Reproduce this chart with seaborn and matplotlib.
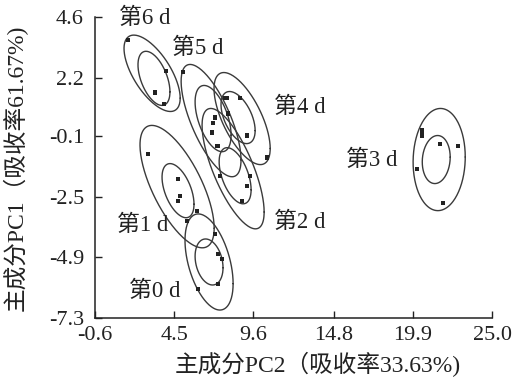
import numpy as np
import pandas as pd
import matplotlib
matplotlib.use("Agg")
import matplotlib.pyplot as plt
import seaborn as sns

sns.set_style("ticks")
plt.rcParams['font.family'] = ['Liberation Serif', 'Noto Sans CJK SC']

# 组别
groups = ['第0 d', '第1 d', '第2 d', '第3 d', '第4 d', '第5 d', '第6 d']

# 样本点 (PC2, PC1)
pts_x = {
    '第0 d': [7.33, 7.59, 7.33, 6.04, 7.14],
    '第1 d': [2.82, 4.75, 4.88, 4.75, 5.98, 5.33],
    '第2 d': [9.39, 9.20, 8.88, 7.46, 7.33],
    '第3 d': [20.48, 20.48, 21.65, 22.81, 20.16, 21.84],
    '第4 d': [7.91, 8.75, 9.20, 10.49, 7.98],
    '第5 d': [5.07, 7.14, 7.01, 6.94, 7.27, 7.78],
    '第6 d': [1.53, 3.98, 3.27, 3.85],
}
pts_y = {
    '第0 d': [-4.76, -4.96, -5.95, -6.15, -3.97],
    '第1 d': [-0.80, -1.79, -2.46, -2.66, -3.06, -3.45],
    '第2 d': [-1.67, -2.06, -2.66, -1.67, -0.48],
    '第3 d': [0.12, -0.08, -0.40, -0.48, -1.39, -2.74],
    '第4 d': [1.39, 1.39, -0.08, -0.95, 0.79],
    '第5 d': [2.42, 0.63, 0.40, 0.04, -0.48, 1.39],
    '第6 d': [3.69, 2.46, 1.62, 1.15],
}

# 置信椭圆: 中心x, 中心y, x半幅, y半幅, 相关系数
outer_ell = {
    '第0 d': (6.75, -5.08, 1.55, 1.90, -0.45),
    '第1 d': (4.69, -2.10, 2.39, 2.42, -0.68),
    '第2 d': (8.30, -1.39, 2.00, 2.38, -0.72),
    '第3 d': (21.58, -1.03, 1.68, 2.02, 0.05),
    '第4 d': (8.88, 0.59, 1.81, 1.82, -0.65),
    '第5 d': (6.88, 0.51, 1.93, 2.22, -0.7),
    '第6 d': (3.08, 2.38, 1.81, 1.51, -0.65),
}
inner_ell = {
    '第0 d': (6.75, -5.08, 0.90, 0.91, -0.25),
    '第1 d': (4.75, -2.26, 1.03, 1.07, -0.5),
    '第2 d': (8.43, -1.67, 1.03, 1.11, -0.5),
    '第3 d': (21.39, -1.03, 0.90, 0.95, 0.1),
    '第4 d': (8.62, 0.63, 1.10, 1.03, -0.5),
    '第5 d': (7.01, 0.59, 1.16, 1.31, -0.5),
    '第6 d': (3.20, 2.18, 1.03, 1.07, -0.5),
}

# 标签位置
lab_x = [3.27, 2.50, 12.62, 17.26, 12.62, 6.04, 2.62]
lab_y = [-6.23, -3.65, -3.53, -1.07, 1.03, 3.37, 4.56]

xticks = [-0.6, 4.5, 9.6, 14.8, 19.9, 25.0]
yticks = [-7.3, -4.9, -2.5, -0.1, 2.2, 4.6]

t = np.linspace(0, 2 * np.pi, 200)
rows = []
for kind, ells in [('outer', outer_ell), ('inner', inner_ell)]:
    for g in groups:
        cx, cy, ax_, ay_, r = ells[g]
        ex = cx + ax_ * np.cos(t)
        ey = cy + ay_ * (r * np.cos(t) + np.sqrt(1 - r * r) * np.sin(t))
        for a, b in zip(ex, ey):
            rows.append((g + kind, a, b))
ell_df = pd.DataFrame(rows, columns=['id', 'x', 'y'])

pt_df = pd.DataFrame([(g, a, b) for g in groups for a, b in zip(pts_x[g], pts_y[g])],
                     columns=['group', 'x', 'y'])

fig = plt.figure(figsize=(5.22, 3.81), dpi=100)
ax = fig.add_axes([0.182, 0.165, 0.761, 0.79])

sns.lineplot(data=ell_df, x='x', y='y', units='id', estimator=None, sort=False,
             color='#3a3a3a', linewidth=1.0, ax=ax)
sns.scatterplot(data=pt_df, x='x', y='y', marker='s', s=9, color='#222222',
                edgecolor='none', ax=ax, zorder=3)

for g, a, b in zip(groups, lab_x, lab_y):
    ax.text(a, b, g, fontsize=16.5, ha='center', va='center', color='#222222',
            clip_on=False)

ax.set_xlim(-0.6, 25.0)
ax.set_ylim(-7.3, 4.6)
ax.set_xticks(xticks)
ax.set_xticklabels([f'{v:.1f}' for v in xticks], fontsize=16)
ax.set_yticks(yticks)
ax.set_yticklabels([f'{v:.1f}' for v in yticks], fontsize=16)
ax.tick_params(direction='in', length=5, width=1, color='#222222',
               labelcolor='#222222')
ax.tick_params(axis='x', pad=6)
ax.tick_params(axis='y', pad=8)
sns.despine(ax=ax)
for s in ['left', 'bottom']:
    ax.spines[s].set_linewidth(1.1)
    ax.spines[s].set_color('#222222')
ax.set_xlabel('主成分PC2（吸收率33.63%)', fontsize=17, color='#222222')
ax.set_ylabel('主成分PC1（吸收率61.67%)', fontsize=17, color='#222222')
ax.xaxis.set_label_coords(0.56, -0.113)
ax.yaxis.set_label_coords(-0.169, 0.5)

fig.savefig('out.png', dpi=100)
